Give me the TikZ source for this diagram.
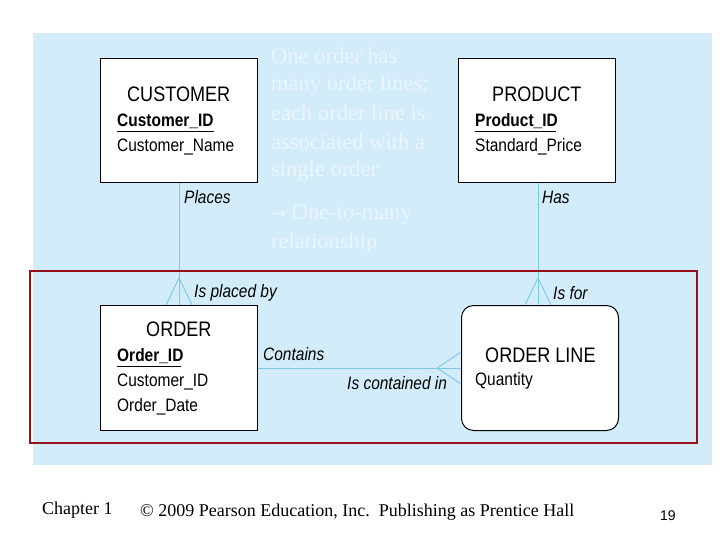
\documentclass[tikz,border=0pt]{standalone}
\usepackage{fontspec}
\setmainfont{Liberation Serif}
\newfontfamily\arial[FakeStretch=0.86]{Liberation Sans}
\newfontfamily\arialn{Liberation Sans}
\newfontfamily\dejavu{DejaVu Sans}
\begin{document}
\begin{tikzpicture}[x=1pt,y=-1pt,
  ent/.style={draw=black,fill=white,line width=1pt},
  ttl/.style={font=\arial\fontsize{21}{23}\selectfont,anchor=west,inner sep=0},
  att/.style={font=\arial\fontsize{18}{20}\selectfont,anchor=west,inner sep=0},
  lab/.style={font=\arial\itshape\fontsize{18}{20}\selectfont,anchor=west,inner sep=0},
  ov/.style={font=\fontsize{22.5}{24}\selectfont,text=white!55!panel,anchor=west,inner sep=0},
  foot/.style={font=\fontsize{18}{20}\selectfont,anchor=west,inner sep=0}]
\definecolor{panel}{RGB}{210,236,250}
\definecolor{relc}{RGB}{120,200,230}
\definecolor{frame}{RGB}{150,15,25}
\tikzset{rel/.style={draw=relc,line width=0.9pt}}
\useasboundingbox (0,0) rectangle (720,540);
\fill[white] (0,0) rectangle (720,540);
\fill[panel] (33,33) rectangle (712,465);
% relations
\coordinate (cu) at (179,182); \coordinate (op) at (179,278);
\coordinate (pu) at (538,182); \coordinate (lp) at (538,278);
\coordinate (ca) at (437,368);
\draw[rel] (cu) -- (179,305);
\draw[rel] (op) -- (166,305) (op) -- (192,305);
\draw[rel] (pu) -- (538,305);
\draw[rel] (lp) -- (525,305) (lp) -- (551,305);
\draw[rel] (257,368) -- (461,368);
\draw[rel] (ca) -- (461,352) (ca) -- (461,384);
% entities
\node[ent,minimum width=157,minimum height=124,anchor=north west] (cust) at (100,58) {};
\node[ent,minimum width=157,minimum height=124,anchor=north west] (prod) at (458,58) {};
\node[ent,minimum width=157,minimum height=125,anchor=north west] (ord) at (100,305) {};
\node[ent,rounded corners=12,minimum width=157,minimum height=125,anchor=north west] (ol) at (461,305) {};
\node[ttl] (t1) at (127,94) {CUSTOMER};
\node[att] (a1) at (117,121) {\bfseries Customer\_ID};
\draw (117,131) -- (214,131);
\node[att] (a2) at (117,147) {Customer\_Name};
\node[ttl] (t2) at (492,94) {PRODUCT};
\node[att] (a3) at (475,121) {\bfseries Product\_ID};
\draw (475,131) -- (556,131);
\node[att] (a4) at (475,147) {Standard\_Price};
\node[ttl] (t3) at (146,329) {ORDER};
\node[att] (a5) at (117,356) {\bfseries Order\_ID};
\draw (117,366) -- (181,366);
\node[att] (a6) at (117,382) {Customer\_ID};
\node[att] (a7) at (117,407) {Order\_Date};
\node[ttl] (t4) at (485,355) {ORDER LINE};
\node[att] (a8) at (475,381) {Quantity};
% labels
\node[lab] (l1) at (184,197) {Places};
\node[lab] (l2) at (542,197) {Has};
\node[lab] (l3) at (194,293) {Is placed by};
\node[lab] (l4) at (553,293) {Is for};
\node[lab] (l5) at (263,354) {Contains};
\node[lab] (l6) at (347,383) {Is contained in};
% frame
\draw[frame,line width=2pt] (30,271) rectangle (697,443);
% overlay text
\node[ov] at (271,56) {One order has};
\node[ov] at (271,85) {many order lines;};
\node[ov] at (271,113) {each order line is};
\node[ov] at (271,142) {associated with a};
\node[ov] at (271,171) {single order};
\node[ov] at (271,214) {{\dejavu\fontsize{18}{20}\selectfont→} One-to-many};
\node[ov] at (271,243) {relationship};
% footer
\node[foot] at (42,510) {Chapter 1};
\node[foot] at (140,512) {© 2009 Pearson Education, Inc.\ \ Publishing as Prentice Hall};
\node[font=\arialn\fontsize{14}{16}\selectfont,anchor=west,inner sep=0] at (660,516) {19};
\end{tikzpicture}
\end{document}
